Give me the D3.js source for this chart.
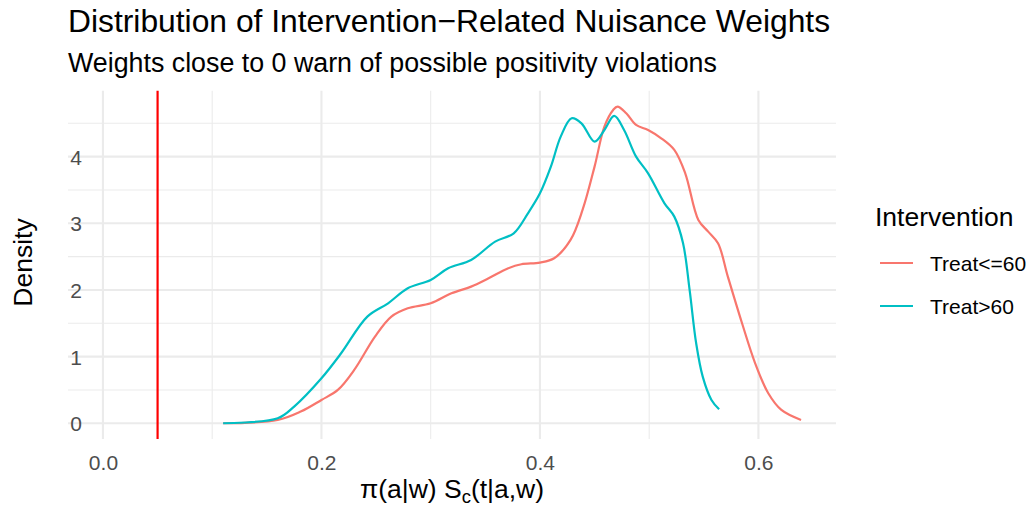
<!DOCTYPE html>
<html>
<head>
<meta charset="utf-8">
<script src="https://cdn.jsdelivr.net/npm/d3@7"></script>
<style>
  html, body { margin: 0; padding: 0; background: #fff; }
  svg { display: block; font-family: "Liberation Sans", Arial, Helvetica, sans-serif; }
</style>
</head>
<body>
<svg id="chart" width="1030" height="508"></svg>
<script>
// ---- data ----
const seriesNames = ["Treat<=60", "Treat>60"];
const seriesColors = ["#F8766D", "#00BFC4"];

const treatLe60X = [0.110, 0.160, 0.181, 0.200, 0.215, 0.230, 0.249, 0.264, 0.279, 0.300, 0.319, 0.337, 0.353, 0.371, 0.383, 0.400, 0.413, 0.428, 0.439, 0.450, 0.459, 0.467, 0.471, 0.479, 0.488, 0.499, 0.511, 0.523, 0.533, 0.545, 0.554, 0.563, 0.572, 0.585, 0.597, 0.609, 0.621, 0.639];
const treatLe60Y = [0.00, 0.05, 0.175, 0.35, 0.50, 0.80, 1.30, 1.60, 1.725, 1.80, 1.95, 2.05, 2.175, 2.325, 2.385, 2.41, 2.475, 2.75, 3.20, 3.85, 4.45, 4.70, 4.75, 4.65, 4.475, 4.40, 4.275, 4.10, 3.75, 3.05, 2.875, 2.70, 2.20, 1.50, 0.90, 0.45, 0.20, 0.05];

const treatGt60X = [0.110, 0.160, 0.175, 0.200, 0.218, 0.242, 0.261, 0.279, 0.300, 0.316, 0.337, 0.359, 0.376, 0.389, 0.400, 0.410, 0.419, 0.429, 0.438, 0.450, 0.459, 0.468, 0.477, 0.488, 0.499, 0.514, 0.523, 0.531, 0.537, 0.543, 0.549, 0.557, 0.564];
const treatGt60Y = [0.00, 0.075, 0.25, 0.675, 1.05, 1.60, 1.80, 2.025, 2.15, 2.325, 2.45, 2.725, 2.85, 3.15, 3.45, 3.85, 4.30, 4.575, 4.50, 4.225, 4.40, 4.61, 4.40, 4.00, 3.75, 3.30, 3.10, 2.70, 2.00, 1.20, 0.70, 0.35, 0.21];

const xTicks = [0.0, 0.2, 0.4, 0.6];
const xMinorTicks = [0.1, 0.3, 0.5];
const yTicks = [0, 1, 2, 3, 4];
const yMinorTicks = [0.5, 1.5, 2.5, 3.5, 4.5];
const vlineX = 0.05;

const titleText = "Distribution of Intervention\u2212Related Nuisance Weights";
const subtitleText = "Weights close to 0 warn of possible positivity violations";
const yTitle = "Density";
const legendTitle = "Intervention";

// ---- layout ----
const svg = d3.select("#chart");
const panel = { left: 68, right: 836, top: 90.8, bottom: 439.1 };

const x = d3.scaleLinear().domain([-0.032, 0.671]).range([panel.left, panel.right]);
const y = d3.scaleLinear().domain([-0.2375, 4.9875]).range([panel.bottom, panel.top]);

const grid = "#ebebeb";
const g = svg.append("g");

// minor grid
g.selectAll(".xminor").data(xMinorTicks).join("line")
  .attr("x1", d => x(d)).attr("x2", d => x(d))
  .attr("y1", panel.top).attr("y2", panel.bottom)
  .attr("stroke", grid).attr("stroke-width", 1.07);
g.selectAll(".yminor").data(yMinorTicks).join("line")
  .attr("y1", d => y(d)).attr("y2", d => y(d))
  .attr("x1", panel.left).attr("x2", panel.right)
  .attr("stroke", grid).attr("stroke-width", 1.07);
// major grid
g.selectAll(".xmajor").data(xTicks).join("line")
  .attr("x1", d => x(d)).attr("x2", d => x(d))
  .attr("y1", panel.top).attr("y2", panel.bottom)
  .attr("stroke", grid).attr("stroke-width", 2.13);
g.selectAll(".ymajor").data(yTicks).join("line")
  .attr("y1", d => y(d)).attr("y2", d => y(d))
  .attr("x1", panel.left).attr("x2", panel.right)
  .attr("stroke", grid).attr("stroke-width", 2.13);

// axes (labels only, via d3 axes)
const xAxis = d3.axisBottom(x).tickValues(xTicks).tickFormat(d3.format(".1f")).tickSize(0).tickPadding(0);
const xa = svg.append("g").attr("transform", `translate(0,${panel.bottom})`).call(xAxis);
xa.select(".domain").remove();
xa.selectAll("text").attr("font-size", 21).attr("fill", "#4d4d4d")
  .attr("font-family", "Liberation Sans, Arial, sans-serif")
  .attr("dy", null).attr("y", 31);

const yAxis = d3.axisLeft(y).tickValues(yTicks).tickFormat(d3.format("d")).tickSize(0).tickPadding(0);
const ya = svg.append("g").attr("transform", `translate(${panel.left + 14},0)`).call(yAxis);
ya.select(".domain").remove();
ya.selectAll("text").attr("font-size", 21).attr("fill", "#4d4d4d")
  .attr("font-family", "Liberation Sans, Arial, sans-serif")
  .attr("dy", "0.36em").attr("x", 0);

// density lines
const series = [
  { name: seriesNames[0], color: seriesColors[0], xs: treatLe60X, ys: treatLe60Y },
  { name: seriesNames[1], color: seriesColors[1], xs: treatGt60X, ys: treatGt60Y }
];
const line = d3.line().x(d => x(d[0])).y(d => y(d[1])).curve(d3.curveCatmullRom.alpha(0.5));
svg.append("g").selectAll("path").data(series).join("path")
  .attr("d", s => line(s.xs.map((v, i) => [v, s.ys[i]])))
  .attr("fill", "none").attr("stroke", s => s.color).attr("stroke-width", 2.2)
  .attr("stroke-linejoin", "round").attr("stroke-linecap", "butt");

// vertical reference line
svg.append("line")
  .attr("x1", x(vlineX)).attr("x2", x(vlineX))
  .attr("y1", panel.top).attr("y2", panel.bottom)
  .attr("stroke", "#FF0000").attr("stroke-width", 2.2);

// titles
svg.append("text").attr("x", 68).attr("y", 32).attr("font-size", 31.8).attr("fill", "#000").text(titleText);
svg.append("text").attr("x", 68).attr("y", 72).attr("font-size", 26.8).attr("fill", "#000").text(subtitleText);

// y title
svg.append("text")
  .attr("transform", `translate(32,262.5) rotate(-90)`)
  .attr("text-anchor", "middle").attr("font-size", 26.5).attr("fill", "#000").text(yTitle);

// x title with subscript
const xt = svg.append("text").attr("x", (panel.left + panel.right) / 2).attr("y", 498)
  .attr("text-anchor", "middle").attr("font-size", 26.5).attr("fill", "#000");
xt.append("tspan").text("\u03c0(a|w) S");
xt.append("tspan").attr("font-size", 18.5).attr("dy", 5).text("c");
xt.append("tspan").attr("dy", -5).text("(t|a,w)");

// legend
const lg = svg.append("g");
lg.append("text").attr("x", 875).attr("y", 226).attr("font-size", 26.5).attr("fill", "#000").text(legendTitle);
const keyY = [263, 306];
lg.selectAll(".key").data(series).join("line")
  .attr("x1", 880).attr("x2", 913)
  .attr("y1", (d, i) => keyY[i]).attr("y2", (d, i) => keyY[i])
  .attr("stroke", d => d.color).attr("stroke-width", 2.2);
lg.selectAll(".lab").data(series).join("text")
  .attr("x", 930).attr("y", (d, i) => keyY[i]).attr("dy", "0.36em")
  .attr("font-size", 21).attr("fill", "#000").text(d => d.name);
</script>
</body>
</html>
